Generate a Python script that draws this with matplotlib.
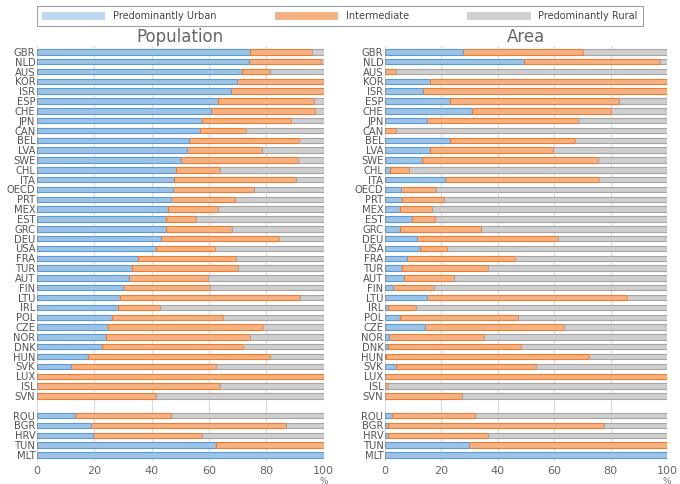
import numpy as np
import matplotlib.pyplot as plt
from matplotlib.patches import Patch

countries = ['GBR','NLD','AUS','KOR','ISR','ESP','CHE','JPN','CAN','BEL','LVA','SWE','CHL','ITA',
             'OECD','PRT','MEX','EST','GRC','DEU','USA','FRA','TUR','AUT','FIN','LTU','IRL','POL',
             'CZE','NOR','DNK','HUN','SVK','LUX','ISL','SVN','ROU','BGR','HRV','TUN','MLT']

# population: urban share, cumulative urban+intermediate
pop_urban = [74.4,74.0,71.5,69.7,67.8,63.1,60.7,57.6,57.0,53.2,52.3,50.4,48.5,47.7,
             47.5,46.7,45.9,45.2,45.2,43.4,41.6,35.3,33.2,32.0,30.0,28.9,28.2,26.4,
             24.9,24.2,22.9,17.9,12.1,0,0,0,13.4,19.0,19.7,62.5,100]
pop_cum = [95.9,99.0,81.3,100,100,96.6,97.0,88.5,72.9,91.4,78.5,90.9,63.7,90.3,
           75.8,69.0,63.2,55.4,68.0,84.5,62.0,69.3,70.1,59.6,60.4,91.8,42.8,64.8,
           78.8,74.2,71.9,81.3,62.6,100,63.8,41.6,46.7,87.0,57.5,100,100]

area_urban = [27.7,49.3,0.1,15.9,13.4,23.0,30.8,14.8,0,23.2,15.9,13.0,1.7,21.2,
              5.7,5.9,5.3,9.7,5.5,11.4,12.4,7.7,6.0,6.8,3.0,14.8,1.1,5.3,
              14.1,1.5,1.1,0.5,3.9,0,0,0,2.6,1.1,1.1,29.9,100]
area_cum = [70.1,97.6,3.9,100,100,82.8,80.3,68.5,3.9,67.2,59.4,75.6,8.4,75.9,
            18.1,20.9,16.6,17.7,34.0,61.3,21.9,46.0,36.6,24.4,17.4,85.9,11.0,47.2,
            63.3,35.3,48.3,72.4,53.7,100,1.1,27.3,32.0,77.7,36.7,100,100]

BLUE, BLUE_E = '#9dc3e6', '#5b9bd5'
ORANGE, ORANGE_E = '#f4b183', '#ed7d31'
GRAY, GRAY_E = '#cfcfcf', '#a5a5a5'

# rows with one empty slot between SVN and ROU
ypos = np.array([i if i < 36 else i + 1 for i in range(len(countries))])

fig = plt.figure(figsize=(6.8, 4.84), dpi=100)
axes = [fig.add_axes([0.054, 0.048, 0.422, 0.857]),
        fig.add_axes([0.566, 0.048, 0.415, 0.857])]

for ax, title, urb, cum in zip(axes, ['Population', 'Area'],
                               [pop_urban, area_urban], [pop_cum, area_cum]):
    urb = np.array(urb); cum = np.array(cum)
    h = 0.55
    ax.barh(ypos, urb, height=h, color=BLUE, edgecolor=BLUE_E, lw=0.8, zorder=3)
    ax.barh(ypos, cum - urb, left=urb, height=h, color=ORANGE, edgecolor=ORANGE_E, lw=0.8, zorder=3)
    ax.barh(ypos, 100 - cum, left=cum, height=h, color=GRAY, edgecolor=GRAY_E, lw=0.8, zorder=3)
    ax.set_xlim(0, 100)
    ax.set_ylim(ypos[-1] + 0.6, -0.6)
    ax.set_yticks(ypos)
    ax.set_yticklabels(countries, fontsize=7.2, color='#555555')
    ax.set_xticks(range(0, 101, 20))
    ax.tick_params(axis='x', labelsize=8, colors='#666666', length=0)
    ax.tick_params(axis='y', length=0, pad=1)
    ax.grid(axis='x', color='#d9d9d9', lw=0.8, zorder=0)
    for s in ax.spines.values():
        s.set_visible(False)
    ax.set_title(title, fontsize=12, color='#666666', pad=0)
    ax.text(1.0, -0.04, '%', transform=ax.transAxes, fontsize=6.5, color='#777777',
            ha='center', va='top')

handles = [Patch(facecolor='#bdd7ee', edgecolor='none', label='Predominantly Urban'),
           Patch(facecolor=ORANGE, edgecolor='none', label='Intermediate'),
           Patch(facecolor=GRAY, edgecolor='none', label='Predominantly Rural')]
leg = fig.legend(handles=handles, loc='upper center', bbox_to_anchor=(0.5, 0.997), ncol=3,
                 fontsize=7, frameon=True, fancybox=False, handlelength=6.5, handleheight=0.8,
                 columnspacing=6, borderpad=0.5)
leg.get_frame().set_edgecolor('#888888')
leg.get_frame().set_linewidth(0.8)
for t in leg.get_texts():
    t.set_color('#444444')

fig.savefig('out.png', dpi=100)
